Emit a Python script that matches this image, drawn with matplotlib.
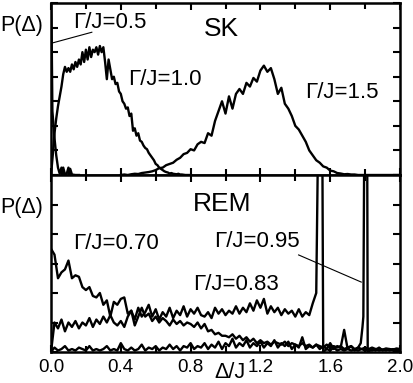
import numpy as np
import matplotlib
matplotlib.use("Agg")
import matplotlib.pyplot as plt
from matplotlib.ticker import MultipleLocator

plt.rcParams['font.family'] = ['Liberation Sans', 'DejaVu Sans']

# ---- SK panel data ----
sk_05_x = [0.0, 0.004, 0.008, 0.02, 0.03, 0.04, 0.05, 0.06, 0.065, 0.07, 0.08, 0.09,
           0.1, 0.105, 0.11, 0.12, 0.14, 0.16]
sk_05_y = [7.5, 5.5, 2.6, 1.5, 0.8, 0.3, 0.05, 0.3, 0.02, 0.3, 0.03, 0.05,
           0.3, 0.02, 0.25, 0.02, 0.0, 0.0]

sk_10_x = np.round(np.arange(0.0, 0.81, 0.01), 2)
sk_10_y = [0.0, 0.8, 1.7, 2.3, 2.8, 3.2, 3.6, 4.1, 4.4, 4.2,
           4.35, 4.2, 4.5, 4.3, 4.6, 4.4, 4.7, 4.5, 5.0, 4.6,
           5.1, 4.7, 5.2, 4.8, 5.1, 5.0, 5.2, 4.9, 5.25, 5.0,
           5.2, 4.6, 3.9, 4.7, 4.3, 3.9, 4.0, 3.7, 3.75, 3.4,
           3.3, 3.0, 2.9, 2.7, 2.75, 2.4, 2.5, 1.8, 1.9, 1.6,
           1.7, 1.4, 1.35, 1.2, 1.1, 1.05, 0.9, 0.8, 0.7, 0.6,
           0.45, 0.4, 0.3, 0.25, 0.2, 0.15, 0.12, 0.1, 0.06, 0.08,
           0.05, 0.04, 0.03, 0.05, 0.02, 0.02, 0.01, 0.0, 0.0, 0.0,
           0.0]

sk_15_x = np.round(np.arange(0.40, 2.001, 0.02), 2)
sk_15_y = [0.0, 0.02, 0.0, 0.03, 0.05, 0.04, 0.08, 0.1, 0.12, 0.15,
           0.2, 0.28, 0.3, 0.4, 0.45, 0.5, 0.62, 0.7, 0.85, 0.9,
           1.05, 1.0, 1.25, 1.35, 1.3, 1.7, 1.6, 2.2, 2.6, 3.0,
           2.5, 3.2, 2.7, 3.3, 3.5, 3.3, 3.75, 3.6, 3.95, 3.8,
           4.25, 4.45, 4.2, 4.35, 3.9, 3.3, 3.55, 2.9, 2.7, 2.4,
           2.0, 1.85, 1.6, 1.35, 1.0, 0.8, 0.6, 0.5, 0.35, 0.3,
           0.18, 0.15, 0.08, 0.06, 0.03, 0.04, 0.02, 0.02, 0.0, 0.0,
           0.0, 0.0, 0.0, 0.0, 0.0, 0.0, 0.0, 0.0, 0.0, 0.0,
           0.0]

# ---- REM panel data ----
grid = np.round(np.arange(0.0, 2.001, 0.02), 2)
rem_070_y = [3.5, 3.3, 2.5, 2.7, 2.8, 3.1, 2.5, 2.6, 2.55, 2.2,
             2.1, 2.2, 1.9, 1.85, 2.0, 1.6, 1.75, 1.2, 1.7, 1.6,
             1.8, 1.85, 1.3, 1.4, 0.9, 1.2, 1.5, 1.2, 1.3, 1.05,
             1.2, 1.0, 1.15, 1.05, 0.9, 1.1, 0.95, 1.05, 0.9, 1.0,
             0.95, 0.85, 1.0, 0.8, 0.95, 0.7, 0.75, 0.6, 0.65, 0.55,
             0.55, 0.5, 0.6, 0.45, 0.55, 0.4, 0.5, 0.35, 0.45, 0.3,
             0.4, 0.3, 0.35, 0.25, 0.35, 0.3, 0.25, 0.35, 0.2, 0.3,
             0.25, 0.2, 0.3, 0.2, 0.25, 0.15, 0.25, 0.2, 0.15, 0.25,
             0.15, 0.2, 0.15, 0.2, 0.1, 0.15, 0.2, 0.1, 0.15, 0.1,
             0.15, 0.1, 0.15, 0.1, 0.12, 0.08, 0.12, 0.1, 0.08, 0.12,
             0.1]

rem_083_x = list(np.round(np.arange(0.0, 1.501, 0.02), 2)) + \
    [1.52, 1.53, 1.555, 1.56] + list(np.round(np.arange(1.58, 2.001, 0.02), 2))
rem_083_y = [0.0, 1.0, 0.8, 1.1, 0.7, 1.0, 0.85, 1.05, 0.8, 1.0,
             0.9, 1.15, 0.85, 1.1, 0.95, 1.2, 1.0, 1.25, 1.0, 0.9,
             1.05, 0.85, 1.2, 1.4, 1.1, 1.5, 1.2, 1.35, 1.6, 1.2,
             1.45, 1.1, 1.35, 1.2, 1.5, 1.15, 1.4, 1.25, 1.55, 1.2,
             1.45, 1.3, 1.5, 1.25, 1.2, 1.35, 1.15, 1.5, 1.3, 1.45,
             1.25, 1.4, 1.3, 1.55, 1.3, 1.5, 1.35, 1.65, 1.4, 1.75,
             1.5, 1.8, 1.3, 1.55, 1.35, 1.5, 1.25, 1.45, 1.3, 1.4,
             1.2, 1.45, 1.2, 1.35, 1.25, 1.65,
             2.0, 7.0, 7.0, 0.0,
             0.1, 0.05, 0.15, 0.05, 0.1, 0.05, 0.1, 0.05, 0.08, 0.05,
             0.1, 0.05, 0.08, 0.05, 0.1, 0.05, 0.08, 0.05, 0.1, 0.05,
             0.08, 0.05]

rem_095_x = list(np.round(np.arange(0.0, 1.761, 0.02), 2)) + \
    [1.775, 1.785, 1.79, 1.795, 1.812, 1.815] + list(np.round(np.arange(1.84, 2.001, 0.02), 2))
rem_095_y = [0.0, 0.15, 0.05, 0.1, 0.2, 0.05, 0.1, 0.05, 0.15, 0.1,
             0.05, 0.2, 0.05, 0.1, 0.05, 0.1, 0.2, 0.05, 0.1, 0.05,
             0.3, 0.1, 0.05, 0.15, 0.05, 0.1, 0.25, 0.05, 0.15, 0.1,
             0.2, 0.05, 0.15, 0.1, 0.25, 0.1, 0.2, 0.05, 0.2, 0.15,
             0.3, 0.1, 0.2, 0.15, 0.3, 0.1, 0.25, 0.15, 0.35, 0.1,
             0.3, 0.2, 0.45, 0.15, 0.3, 0.2, 0.4, 0.15, 0.3, 0.2,
             0.35, 0.15, 0.3, 0.2, 0.4, 0.15, 0.3, 0.2, 0.35, 0.1,
             0.25, 0.15, 0.5, 0.1, 0.2, 0.15, 0.25, 0.1, 0.2, 0.1,
             0.3, 0.1, 0.2, 0.15, 0.75, 0.1, 0.2, 0.05, 0.15,
             0.3, 0.85, 1.2, 7.0, 7.0, 0.0,
             0.1, 0.05, 0.15, 0.05, 0.1, 0.05, 0.1, 0.05, 0.1]

W, H = 414, 383
fig = plt.figure(figsize=(W / 100, H / 100), dpi=100)
ax1 = fig.add_axes([51 / W, 1 - 175 / H, 349 / W, 172 / H])
ax2 = fig.add_axes([51 / W, 1 - 352 / H, 349 / W, 177 / H])

lw = 1.7
ax1.plot(sk_05_x, sk_05_y, color='black', lw=lw)
ax1.plot(sk_10_x, sk_10_y, color='black', lw=lw)
ax1.plot(sk_15_x, sk_15_y, color='black', lw=lw)

ax2.plot(grid, rem_070_y, color='black', lw=lw)
ax2.plot(rem_083_x, rem_083_y, color='black', lw=lw)
ax2.plot(rem_095_x, rem_095_y, color='black', lw=lw)

ax1.set_ylim(0, 7)
ax2.set_ylim(0, 6)
for ax in (ax1, ax2):
    ax.set_xlim(0, 2.0)
    ax.xaxis.set_major_locator(MultipleLocator(0.4))
    ax.xaxis.set_minor_locator(MultipleLocator(0.2))
    ax.yaxis.set_major_locator(MultipleLocator(1))
    ax.tick_params(which='both', direction='in', top=True, right=True, width=1.5)
    ax.tick_params(which='major', length=5)
    ax.tick_params(which='minor', length=4)
    ax.set_yticklabels([])
    for s in ax.spines.values():
        s.set_linewidth(1.8)
ax1.set_xticklabels([])
ax2.set_xticks([0.0, 0.4, 0.8, 1.2, 1.6, 2.0])
ax2.set_xticklabels(['0.0', '0.4', '0.8', '1.2', '1.6', '2.0'])
ax2.tick_params(axis='x', labelsize=13.5, pad=5)

fs = 16
ax1.text(0.125, 6.2, 'Γ/J=0.5', fontsize=fs, va='center')
ax1.plot([0.234, 0.006], [5.81, 5.37], color='black', lw=0.8)
ax1.text(0.444, 3.9, 'Γ/J=1.0', fontsize=fs, va='center')
ax1.text(0.877, 5.93, 'SK', fontsize=19, va='center')
ax1.text(1.459, 3.35, 'Γ/J=1.5', fontsize=fs, va='center')

ax2.text(0.815, 5.02, 'REM', fontsize=19, va='center')
ax2.text(0.125, 3.69, 'Γ/J=0.70', fontsize=fs, va='center')
ax2.text(0.934, 3.75, 'Γ/J=0.95', fontsize=fs, va='center')
ax2.plot([1.419, 1.778], [3.29, 2.37], color='black', lw=0.8)
ax2.text(0.815, 2.29, 'Γ/J=0.83', fontsize=fs, va='center')

fig.text(0, 1 - 25 / H, 'P(Δ)', fontsize=15.5, va='center', ha='left')
fig.text(0, 1 - 207 / H, 'P(Δ)', fontsize=15.5, va='center', ha='left')
fig.text(230.5 / W, 1 - 372.5 / H, 'Δ/J', fontsize=15.5, va='center', ha='center')

fig.savefig('out.png', dpi=100)
